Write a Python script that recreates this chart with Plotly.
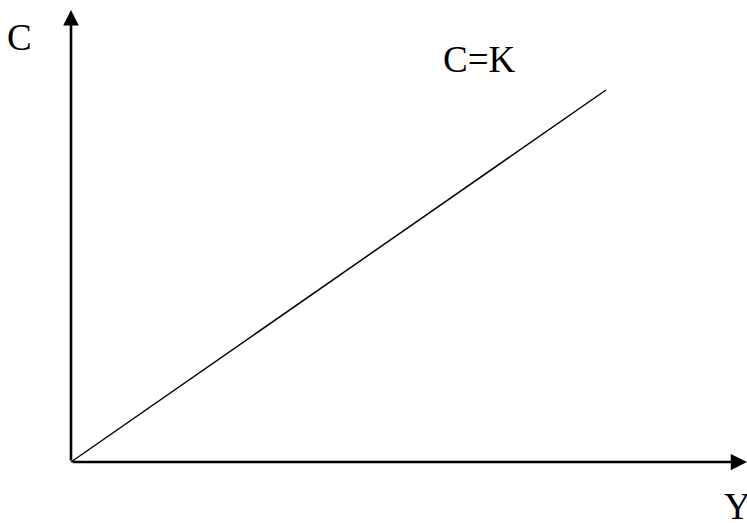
import plotly.graph_objects as go

# Data (arbitrary units: 1 unit ~ 1 px on the reference)
income_Y = [0, 535]          # Y values of the C=K line
consumption_C = [0, 372]     # C values of the C=K line
axis_x_end = 676             # length of the Y axis arrow
axis_y_end = 452             # length of the C axis arrow
labels = {"y_axis": "C", "x_axis": "Y", "line": "C=K"}

W, H = 747, 523
x_range = [-71, 676]
y_range = [-61, 462]

FONT = "Liberation Serif, Times New Roman, serif"

fig = go.Figure()
fig.add_trace(go.Scatter(
    x=income_Y, y=consumption_C, mode="lines",
    line=dict(color="black", width=1.5), showlegend=False, hoverinfo="skip",
))

# axes drawn as arrows
fig.add_annotation(x=axis_x_end, y=0, ax=0, ay=0, xref="x", yref="y", axref="x", ayref="y",
                   text="", showarrow=True, arrowhead=2, arrowsize=1.25, arrowwidth=2.6,
                   arrowcolor="black", standoff=0, startstandoff=0)
fig.add_annotation(x=0, y=axis_y_end, ax=0, ay=0, xref="x", yref="y", axref="x", ayref="y",
                   text="", showarrow=True, arrowhead=2, arrowsize=1.2, arrowwidth=2.6,
                   arrowcolor="black", standoff=0, startstandoff=0)

txt_font = dict(family=FONT, size=37, color="black")
fig.add_annotation(x=5 / W, y=1 - 15 / H, xref="paper", yref="paper", xanchor="left", yanchor="top",
                   text=labels["y_axis"], showarrow=False, font=txt_font)
fig.add_annotation(x=441 / W, y=1 - 37 / H, xref="paper", yref="paper", xanchor="left", yanchor="top",
                   text=labels["line"], showarrow=False, font=txt_font)
fig.add_annotation(x=722 / W, y=1 - 484 / H, xref="paper", yref="paper", xanchor="left", yanchor="top",
                   text=labels["x_axis"], showarrow=False, font=txt_font)

fig.update_layout(
    width=W, height=H, margin=dict(l=0, r=0, t=0, b=0),
    paper_bgcolor="white", plot_bgcolor="white",
    xaxis=dict(range=x_range, visible=False, fixedrange=True),
    yaxis=dict(range=y_range, visible=False, fixedrange=True),
)
fig.write_html("out.html", config={"displayModeBar": False},
               post_script="document.body.style.margin='0';document.body.style.padding='0';")
